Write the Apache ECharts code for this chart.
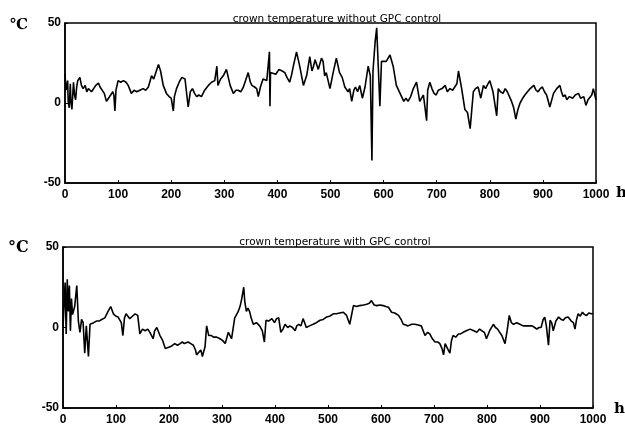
<!DOCTYPE html>
<html>
<head>
<meta charset="utf-8">
<script src="https://cdn.jsdelivr.net/npm/echarts@6/dist/echarts.min.js"></script>
<style>
  html, body { margin: 0; padding: 0; background: #fff; }
  #chart { width: 625px; height: 432px; }
</style>
</head>
<body>
<div id="chart"></div>
<script>
// time axis ticks (h)
const xTicks = [0, 100, 200, 300, 400, 500, 600, 700, 800, 900, 1000];

// upper plot: crown temperature without GPC control
const topTime = [
  0, 2, 3, 5, 6, 8, 10, 11, 13, 16, 18, 20, 22, 24, 28,
  31, 34, 38, 41, 44, 47, 50, 53, 58, 63, 66, 69, 74, 78, 82, 85, 90, 92, 94,
  96, 100, 105, 110, 115, 119, 125, 130, 135, 141, 147, 152, 157, 163, 167, 170,
  176, 180, 185, 191, 196, 200, 204, 206, 210, 215, 220, 226,
  232, 236, 240, 244, 248, 252, 257, 263, 270, 276, 279, 282, 286, 288,
  293, 298, 304, 311, 317, 322, 326, 331, 336, 341, 345, 349, 352, 357, 361, 364,
  368, 373, 380, 385, 386, 387, 390, 397, 403, 409, 414, 418, 423, 427, 430,
  436, 442, 449, 452, 455, 461, 465, 468, 471, 474, 477, 480, 483, 486, 489, 492,
  499, 505, 511, 517, 522, 527, 533, 536, 540, 544, 547, 551, 555, 560,
  565, 571, 575, 578, 580, 584, 587, 590, 593, 596,
  605, 612, 618, 624, 631, 638, 642, 646, 651, 656, 662, 668,
  675, 681, 683, 687, 691, 695, 699, 703, 710, 716, 720, 725, 730, 734, 738, 741,
  747, 753, 758, 763, 769, 773, 778, 783, 788, 792, 795, 800,
  806, 813, 816, 820, 825, 829, 833, 837, 841, 845, 849, 853, 857, 862, 866, 871, 876,
  883, 887, 891, 895, 899, 903, 907, 913, 920, 926, 932, 935, 938, 942, 945, 950, 956,
  961, 967, 971, 974, 977, 981, 985, 988, 992, 995, 1000
];
const topTemp = [
  18, 8, 10, 14, 1, -3, 12, 2, -4, 13, 5, 2, 10, 14, 16,
  11, 9, 11, 7, 9, 10, 7, 8, 11, 12.5, 10, 11, 6, 1, 3, 3, 7, 5, -5,
  8, 14, 13, 14, 13, 11, 6, 8, 7, 8, 9, 8, 10, 17, 15, 18,
  24, 20, 11, 6, 4, 3, -5, 4, 9, 13, 16, 15,
  -2.5, 7, 9, 6, 4, 5, 4, 8, 11, 13, 12, 14, 23, 11,
  15, 17, 21, 11, 6, 8, 8, 7, 10, 15, 19, 13, 11, 10, 9, 4,
  10, 15, 14, 32, -2, 19, 19, 18, 21, 20, 19, 16, 13, 18, 23,
  32, 23, 11, 14, 17, 29, 20, 23, 27, 28, 21, 20, 28, 26, 17, 19,
  9, 19, 28, 19, 16, 10, 7, 9, 1, 8, 10, 7, 11, 3,
  10, 23, 17, -36, 20, 38, 47, 46, -2, 26,
  26, 30, 23, 11, 6, 1, 3, 1, 4, 9, 13, 1,
  5, -11, 8, 13, 9, 6, 5, 8, 9, 11, 7, 9, 8, 10, 12, 20,
  9, -4, -6, -16, 7, 9, 10, 3, 11, 9, 11, 14,
  7, -8, 9, 7, 6, 9, 7, 4, 1, -3, -10, -4, 0, 3, 5, 7, 9,
  11, 8, 7, 9, 10, 7, 5, -2.5, 6, 9, 11, 7, 4, 5, 2, 4, 3,
  5, 6, 3, 2, 4, -1.5, 2, 3, 5, 9, 2
];

// lower plot: crown temperature with GPC control
const bottomTime = [
  0, 2, 4, 6, 8, 10, 12, 14, 16, 18,
  22, 26, 29, 32, 35, 38, 41, 44, 48, 51, 54, 58, 63,
  68, 73, 79, 85, 90, 95, 100, 104, 110, 113, 116, 119,
  126, 131, 136, 141, 145, 150, 155, 160, 164, 170, 173, 177, 183, 188, 193,
  202, 207, 211, 216, 221, 225, 229, 236, 241, 246, 250, 252, 255, 260, 263, 265,
  268, 271, 275, 280, 284, 290, 296, 301, 306, 312, 318, 324, 330, 334, 337,
  341, 343, 346, 349, 352, 355, 359, 365, 371, 376, 380, 383, 388, 394, 399, 403, 407, 411,
  415, 419, 424, 428, 433, 438, 441, 445, 449, 453, 456, 459, 465, 472, 478, 485, 491, 497, 503, 510,
  516, 522, 529, 535, 541, 548, 554, 560, 567, 573, 578, 582, 587, 592, 598, 604,
  609, 614, 620, 626, 633, 638, 642, 647, 651, 658, 664, 670, 676, 683, 688, 692, 697, 702,
  707, 711, 715, 718, 721, 724, 727, 730, 733, 736, 741, 746, 750, 755, 761, 768, 775, 781, 786, 790,
  795, 799, 805, 812, 816, 820, 824, 828, 834, 838, 842, 846, 850, 856, 862, 868, 875, 880, 885,
  890, 894, 898, 902, 906, 909, 912, 916, 919, 922, 925, 930, 935, 940, 944, 948, 953, 959, 963, 966,
  969, 972, 976, 980, 984, 988, 992, 997, 1000
];
const bottomTemp = [
  0, 1, 28, -4, 30, 10, 26, -2, 18, 8,
  13, 26, 4, -3, 5, 3, -16, 1, -18, 2, 1, 3, 4,
  4, 5, 6, 10, 13, 8.5, 7, 6.5, 3, -5, 6, 8.5,
  5.5, 7, 8.5, 7.5, -4, -1, -2, -1, -3, -7, -2, 0, -5, -8, -13,
  -12, -11, -10, -11, -10, -9, -10, -9, -10, -11, -14, -17, -17, -14, -18, -19,
  -12, 1, -5, -5, -6, -6, -7, -8, -10, -3, -7, 6, 9.5, 13, 17.5,
  25, 16, 10, 12, 10, 6, 2, 3, 1, -2, -9, 4.5, 4, 5.5, 3, 5.5, 6, -3,
  -1, 2, 0, 1, 0, -2, 1, 2, 1, 5.5, 3, 0, 1, 2, 3, 4.5, 5, 6.5, 7, 8.5,
  8.5, 9, 9.5, 7.5, 2, 13.6, 13, 13.6, 14, 14.5, 15, 16.7, 14, 13.6, 14, 13.6,
  13, 12.6, 9.5, 9, 7.5, 5, 2, 1.5, 1, 2, 2, 1.5, 1, -5, -3, -4, -7, -9,
  -9, -10, -13, -17, -10, -9, -14, -16, -8, -5, -6, -4, -4, -3, -2, -1, -2, -3, -1, -2,
  -3, -7, -2, 2, 0, -1, -3, -5, -10, -2, 7.5, 3, 2, 3, 2, 1, 1, 1, 1,
  0, -1, 0, 0, 5, 6.4, 1, -11, 4.5, 3, -2, 4, 6.5, 5, 4.5, 6, 6.5, 4, 3, -1,
  5, 8.5, 7, 9.5, 8, 7.5, 9, 8.5, 8.5
];

const yTicks = [-50, 0, 50];

const chart = echarts.init(document.getElementById("chart"));

const labelFont = {
  color: "#000",
  fontFamily: "Liberation Sans",
  fontWeight: "bold",
  fontSize: 12
};

function xAxisFor(gridIndex) {
  return {
    gridIndex: gridIndex,
    type: "value",
    min: xTicks[0],
    max: xTicks[xTicks.length - 1],
    interval: 100,
    axisLine: { show: true, onZero: false, lineStyle: { color: "#000", width: 1.5 } },
    axisTick: { show: true, inside: true, length: 3, lineStyle: { color: "#000" } },
    axisLabel: Object.assign({ margin: 6, formatter: v => String(v) }, labelFont),
    splitLine: { show: false }
  };
}

function yAxisFor(gridIndex) {
  return {
    gridIndex: gridIndex,
    type: "value",
    min: yTicks[0],
    max: yTicks[yTicks.length - 1],
    interval: 50,
    axisLine: { show: true, onZero: false, lineStyle: { color: "#000", width: 1.5 } },
    axisTick: { show: true, inside: true, length: 3, lineStyle: { color: "#000" } },
    axisLabel: Object.assign({ margin: 4 }, labelFont),
    splitLine: { show: false }
  };
}

function pairs(t, v) {
  return t.map((x, i) => [x, v[i]]);
}

const option = {
  backgroundColor: "#fff",
  animation: false,
  title: [
    {
      text: "crown temperature without GPC control",
      left: 332,
      top: 9,
      textAlign: "center",
      textStyle: { fontFamily: "DejaVu Sans", fontSize: 10.5, fontWeight: "normal", color: "#000" }
    },
    {
      text: "crown temperature with GPC control",
      left: 330,
      top: 232,
      textAlign: "center",
      textStyle: { fontFamily: "DejaVu Sans", fontSize: 10.5, fontWeight: "normal", color: "#000" }
    }
  ],
  grid: [
    { left: 65, top: 23, width: 531, height: 160, show: true, borderColor: "#000", borderWidth: 1.5, backgroundColor: "transparent" },
    { left: 63, top: 247, width: 530, height: 161, show: true, borderColor: "#000", borderWidth: 1.5, backgroundColor: "transparent" }
  ],
  xAxis: [xAxisFor(0), xAxisFor(1)],
  yAxis: [yAxisFor(0), yAxisFor(1)],
  graphic: [
    { type: "text", left: 10, top: 18, style: { text: "℃", font: "bold 15px 'DejaVu Serif'", fill: "#000" } },
    { type: "text", left: 8, top: 240, style: { text: "°C", font: "bold 16px 'DejaVu Serif'", fill: "#000" } },
    { type: "text", left: 616, top: 186, style: { text: "h", font: "bold 15px 'DejaVu Serif'", fill: "#000" } },
    { type: "text", left: 614, top: 402, style: { text: "h", font: "bold 15px 'DejaVu Serif'", fill: "#000" } }
  ],
  series: [
    {
      type: "line",
      xAxisIndex: 0,
      yAxisIndex: 0,
      data: pairs(topTime, topTemp),
      showSymbol: false,
      lineStyle: { color: "#000", width: 1.6 }
    },
    {
      type: "line",
      xAxisIndex: 1,
      yAxisIndex: 1,
      data: pairs(bottomTime, bottomTemp),
      showSymbol: false,
      lineStyle: { color: "#000", width: 1.6 }
    }
  ]
};

chart.setOption(option);
</script>
</body>
</html>
